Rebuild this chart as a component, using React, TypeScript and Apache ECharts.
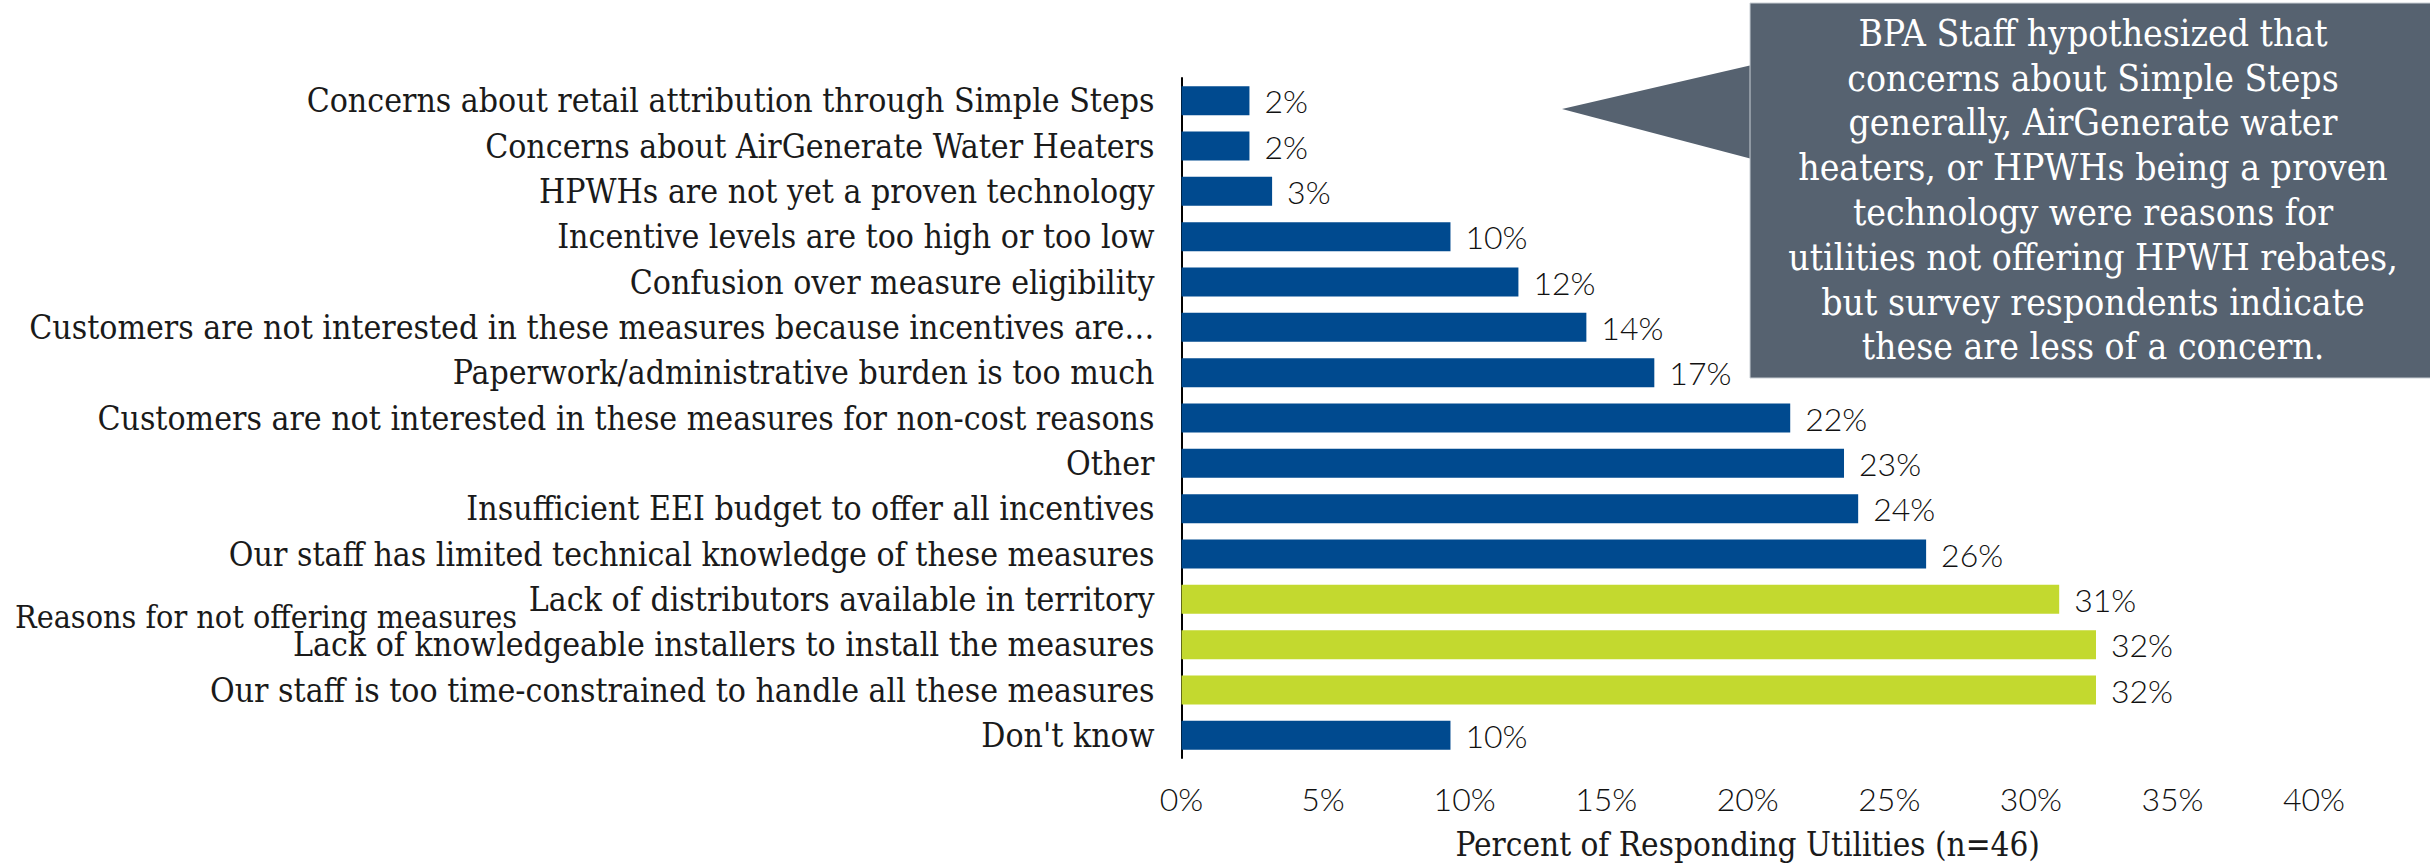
import React, { useEffect, useRef } from "react";
import * as echarts from "echarts";

const categories = [
  "Concerns about retail attribution through Simple Steps",
  "Concerns about AirGenerate Water Heaters",
  "HPWHs are not yet a proven technology",
  "Incentive levels are too high or too low",
  "Confusion over measure eligibility",
  "Customers are not interested in these measures because incentives are…",
  "Paperwork/administrative burden is too much",
  "Customers are not interested in these measures for non-cost reasons",
  "Other",
  "Insufficient EEI budget to offer all incentives",
  "Our staff has limited technical knowledge of these measures",
  "Lack of distributors available in territory",
  "Lack of knowledgeable installers to install the measures",
  "Our staff is too time-constrained to handle all these measures",
  "Don't know",
];

const values = [2.4, 2.4, 3.2, 9.5, 11.9, 14.3, 16.7, 21.5, 23.4, 23.9, 26.3, 31.0, 32.3, 32.3, 9.5];

// "top" marks the three most-cited reasons (highlighted)
const groups = [
  "other", "other", "other", "other", "other", "other", "other", "other",
  "other", "other", "other", "top", "top", "top", "other",
];

const xAxisTitle = "Percent of Responding Utilities (n=46)";
const yAxisTitle = "Reasons for not offering measures";

const calloutLines = [
  "BPA Staff hypothesized that",
  "concerns about Simple Steps",
  "generally, AirGenerate water",
  "heaters, or HPWHs being a proven",
  "technology were reasons for",
  "utilities not offering HPWH rebates,",
  "but survey respondents indicate",
  "these are less of a concern.",
];

const SERIF = "'DejaVu Serif Condensed', 'DejaVu Serif', serif";
const SANS = "Lato, 'Open Sans', sans-serif";
const BLUE = "#004A8F";
const GREEN = "#C3D92F";
const SLATE = "#566270";
const INK = "#1a1a1a";

export default function App() {
  const ref = useRef<HTMLDivElement>(null);

  useEffect(() => {
    if (!ref.current) return;
    const chart = echarts.init(ref.current, null, { renderer: "svg" });
    chart.setOption({
      animation: false,
      backgroundColor: "#ffffff",
      grid: { left: 1181.5, right: 116, top: 78, bottom: 103, containLabel: false },
      xAxis: {
        type: "value",
        min: 0,
        max: 40,
        interval: 5,
        axisLine: { show: false },
        axisTick: { show: false },
        splitLine: { show: false },
        axisLabel: {
          formatter: "{value}%",
          fontFamily: SANS,
          fontWeight: 300,
          fontSize: 32,
          color: "#111111",
          margin: 24,
        },
        name: xAxisTitle,
        nameLocation: "middle",
        nameGap: 70,
        nameTextStyle: { fontFamily: SERIF, fontSize: 33, color: INK },
      },
      yAxis: {
        type: "category",
        inverse: true,
        data: categories,
        axisLine: { show: true, lineStyle: { color: "#000000", width: 2 } },
        axisTick: { show: false },
        axisLabel: { fontFamily: SERIF, fontSize: 33.5, color: INK, margin: 27 },
      },
      series: [
        {
          type: "bar",
          data: values.map((v, i) => ({
            value: v,
            itemStyle: { color: groups[i] === "top" ? GREEN : BLUE },
          })),
          barWidth: 29,
          label: {
            show: true,
            position: "right",
            distance: 15,
            formatter: (p: any) => Math.round(p.value) + "%",
            fontFamily: SANS,
            fontWeight: 300,
            fontSize: 32,
            color: "#111111",
          },
        },
      ],
      graphic: [
        {
          type: "polygon",
          shape: { points: [[1562, 109], [1752, 65], [1752, 159]] },
          style: { fill: SLATE },
        },
        {
          type: "rect",
          shape: { x: 1750, y: 3, width: 690, height: 375 },
          style: { fill: SLATE, stroke: "#c9cfd5", lineWidth: 1 },
        },
        {
          type: "text",
          x: 2093,
          y: 190,
          style: {
            text: calloutLines.join("\n"),
            fill: "#ffffff",
            fontFamily: SERIF,
            fontSize: 37,
            lineHeight: 44.8,
            align: "center",
            verticalAlign: "middle",
            textAlign: "center",
            textVerticalAlign: "middle",
          },
        },
        {
          type: "text",
          x: 15,
          y: 617,
          style: {
            text: yAxisTitle,
            fill: INK,
            fontFamily: SERIF,
            fontSize: 32,
            align: "left",
            verticalAlign: "middle",
            textAlign: "left",
            textVerticalAlign: "middle",
          },
        },
      ],
    });
    return () => chart.dispose();
  }, []);

  return (
    <div
      ref={ref}
      style={{ position: "fixed", left: 0, top: 0, width: 2430, height: 866 }}
    />
  );
}
